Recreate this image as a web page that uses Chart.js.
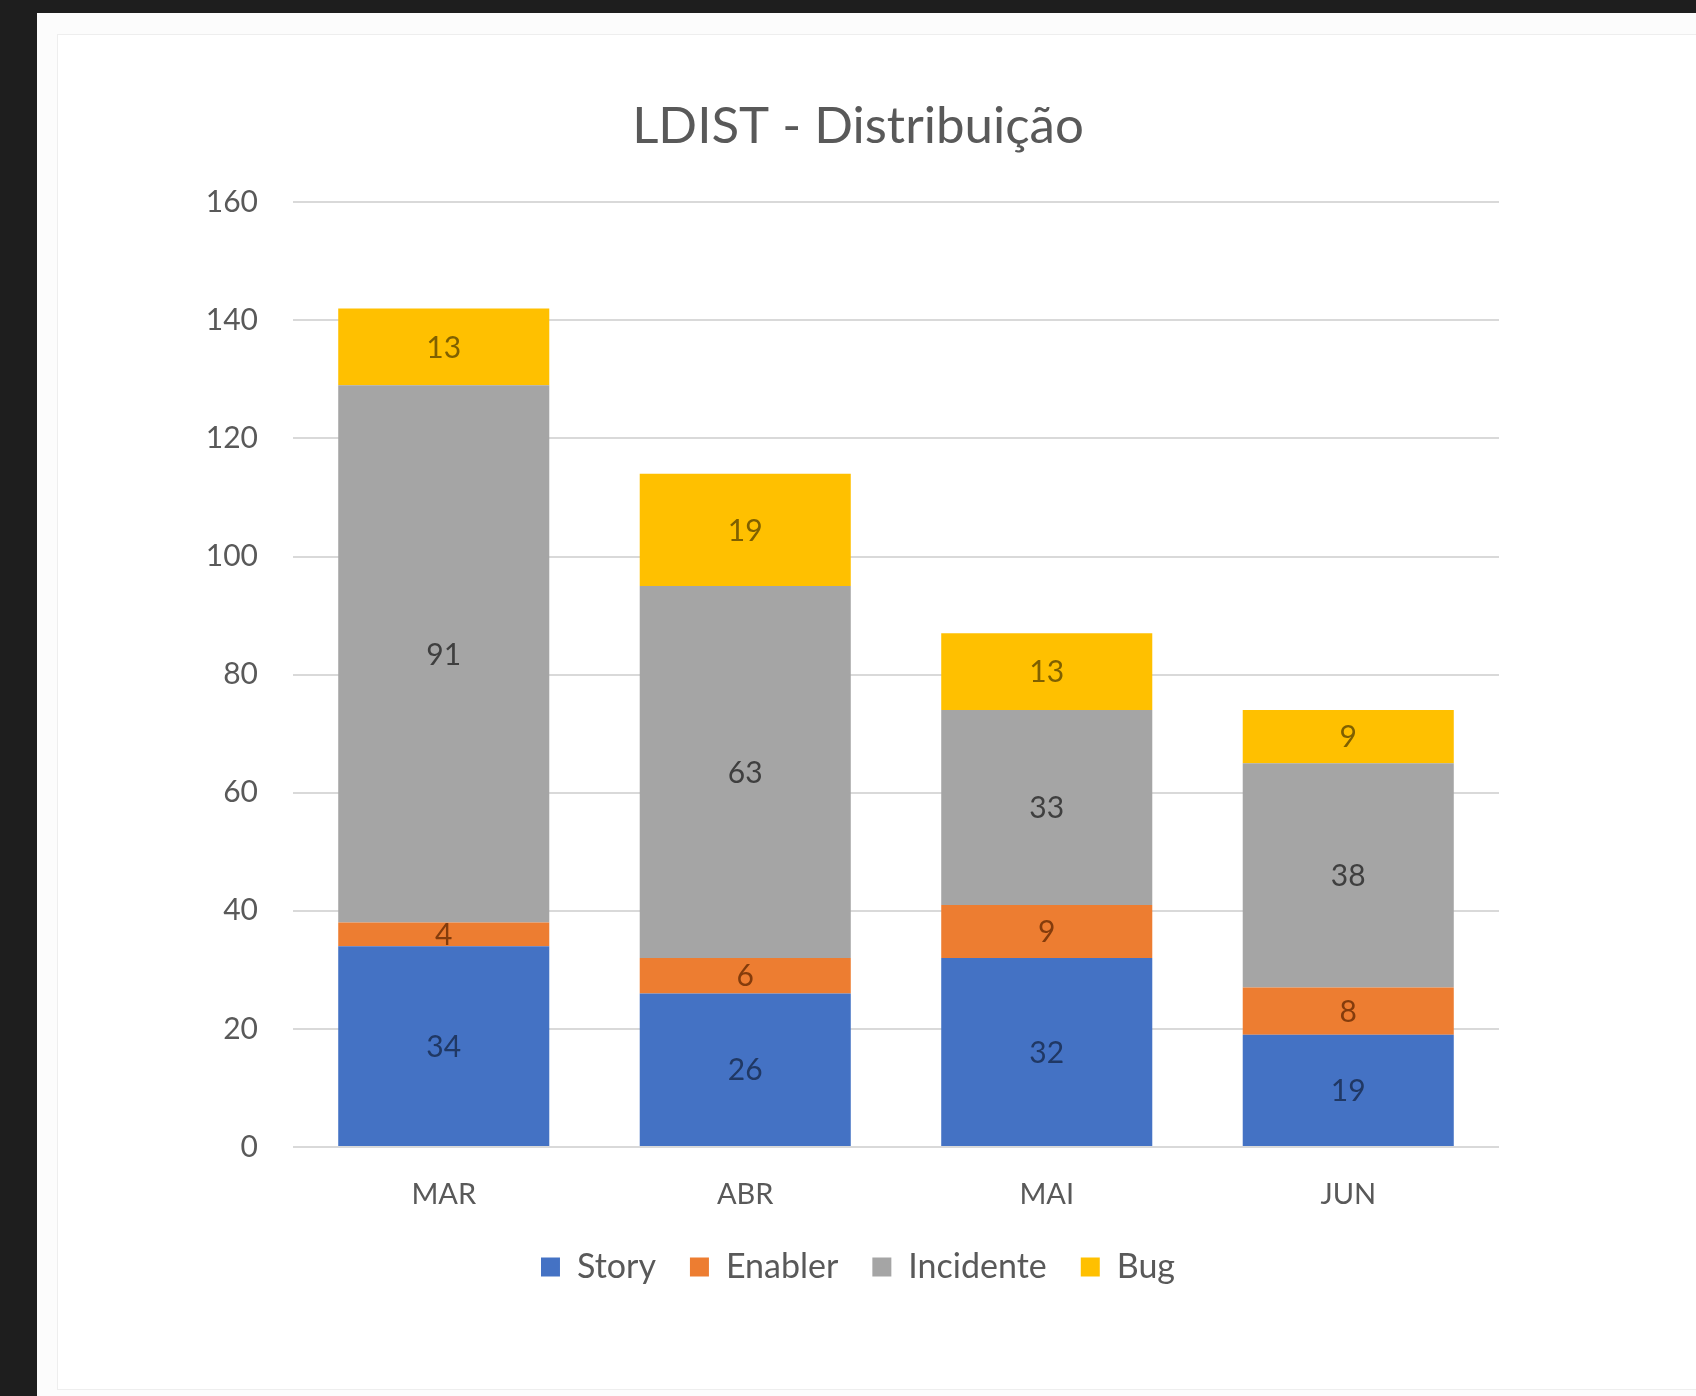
<!DOCTYPE html>
<html>
<head>
<meta charset="utf-8">
<title>LDIST - Distribuição</title>
<script src="https://cdn.jsdelivr.net/npm/chart.js@4/dist/chart.umd.min.js"></script>
<style>
    html, body { margin: 0; padding: 0; }
    body { width: 1696px; height: 1396px; background: #1e1e1e; position: relative; overflow: hidden; }
    #panel { position: absolute; left: 37px; top: 13px; right: 0; bottom: 0; background: #fcfcfc; }
    #frame { position: absolute; left: 57px; top: 34px; width: 1700px; height: 1356px; background: #ffffff; border: 1px solid #eeeeee; box-sizing: border-box; }
    #chart-box { position: absolute; left: 57px; top: 34px; width: 1602px; height: 1356px; }
</style>
</head>
<body>
<div id="panel"></div>
<div id="frame"></div>
<div id="chart-box"><canvas id="distChart"></canvas></div>
<script>
// dados
const months = ['MAR', 'ABR', 'MAI', 'JUN'];
const story = [34, 26, 32, 19];
const enabler = [4, 6, 9, 8];
const incidente = [91, 63, 33, 38];
const bug = [13, 19, 13, 9];
const yTicks = [0, 20, 40, 60, 80, 100, 120, 140, 160];

const FONT = 'Lato, "Open Sans", sans-serif';
const TEXT_GREY = '#595959';
const Y_FONT_SIZE = 30;

// largura do maior rótulo do eixo y (para alinhar à direita com mirror)
function widestYLabel() {
    const c = document.createElement('canvas').getContext('2d');
    c.font = Y_FONT_SIZE + 'px ' + FONT;
    return Math.max(...yTicks.map(v => c.measureText(String(v)).width));
}

// escreve o valor no meio de cada segmento
const segmentLabels = {
    id: 'segmentLabels',
    afterDatasetsDraw(chart) {
        const ctx = chart.ctx;
        ctx.save();
        ctx.font = '30px ' + FONT;
        ctx.textAlign = 'center';
        ctx.textBaseline = 'middle';
        chart.data.datasets.forEach((ds, i) => {
            const meta = chart.getDatasetMeta(i);
            if (meta.hidden) return;
            meta.data.forEach((bar, j) => {
                ctx.fillStyle = ds.labelColor;
                ctx.fillText(String(ds.data[j]), bar.x, (bar.y + bar.base) / 2 + 1);
            });
        });
        ctx.restore();
    }
};

function makeDataset(label, values, color, labelColor) {
    return {
        label: label,
        data: values,
        backgroundColor: color,
        labelColor: labelColor,
        borderWidth: 0,
        barPercentage: 0.7,
        categoryPercentage: 1.0
    };
}

const ctx = document.getElementById('distChart');
new Chart(ctx, {
    type: 'bar',
    data: {
        labels: months,
        datasets: [
            makeDataset('Story', story, '#4472c4', '#203864'),
            makeDataset('Enabler', enabler, '#ed7d31', '#843c0c'),
            makeDataset('Incidente', incidente, '#a5a5a5', '#3f3f3f'),
            makeDataset('Bug', bug, '#ffc000', '#7f6000')
        ]
    },
    options: {
        responsive: true,
        maintainAspectRatio: false,
        animation: false,
        layout: {
            padding: { top: 0, bottom: 96, left: 160, right: 160 }
        },
        scales: {
            x: {
                stacked: true,
                afterFit(scale) {
                    scale.height = 69;
                },
                grid: { display: false, drawTicks: false },
                border: { display: false },
                ticks: {
                    color: TEXT_GREY,
                    padding: 30,
                    font: { family: FONT, size: 29 }
                }
            },
            y: {
                stacked: true,
                min: yTicks[0],
                max: yTicks[yTicks.length - 1],
                afterBuildTicks(scale) {
                    scale.ticks = yTicks.map(v => ({ value: v }));
                },
                afterFit(scale) {
                    scale.width = 76;
                },
                grid: { color: '#d9d9d9', lineWidth: 2, drawTicks: false },
                border: { display: false },
                ticks: {
                    color: TEXT_GREY,
                    mirror: true,
                    crossAlign: 'far',
                    padding: -35 - widestYLabel(),
                    font: { family: FONT, size: Y_FONT_SIZE }
                }
            }
        },
        plugins: {
            title: {
                display: true,
                text: 'LDIST - Distribuição',
                color: TEXT_GREY,
                font: { family: FONT, size: 51, weight: 'normal' },
                padding: { top: 62, bottom: 45 }
            },
            legend: {
                position: 'bottom',
                labels: {
                    color: TEXT_GREY,
                    boxWidth: 19,
                    boxHeight: 19,
                    padding: 34,
                    font: { family: FONT, size: 34 }
                }
            },
            tooltip: { enabled: false }
        }
    },
    plugins: [segmentLabels]
});
</script>
</body>
</html>
